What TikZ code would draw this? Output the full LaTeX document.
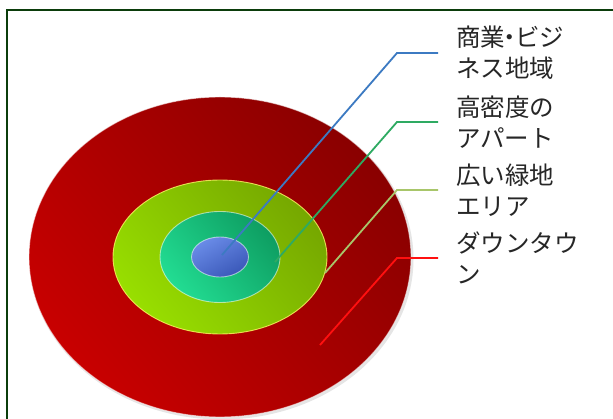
\documentclass[tikz,border=0pt]{standalone}
\usepackage{fontspec}
\newfontfamily\jp{Noto Sans CJK JP}
\usetikzlibrary{shapes.geometric}
\definecolor{framecol}{HTML}{0B3D0B}
\definecolor{redD}{HTML}{8A0000}
\definecolor{redL}{HTML}{C80000}
\definecolor{limeD}{HTML}{76A800}
\definecolor{limeL}{HTML}{98DE00}
\definecolor{tealD}{HTML}{0E9E62}
\definecolor{tealL}{HTML}{22DC92}
\definecolor{blueD}{HTML}{3A58B8}
\definecolor{blueL}{HTML}{6A8CE8}
\definecolor{lnBlue}{HTML}{3C7AC2}
\definecolor{lnGreen}{HTML}{2EAA62}
\definecolor{lnLime}{HTML}{A8C66A}
\definecolor{lnRed}{HTML}{FF1010}
\tikzset{
  zone/.style={ellipse, inner sep=0pt, draw=white, draw opacity=0.55, line width=0.9pt},
  lbl/.style={anchor=west, inner xsep=18pt, inner ysep=0pt, align=left,
              font=\jp\fontsize{24.5pt}{31pt}\selectfont, text=black!85},
  leader/.style={line width=1.8pt}
}
\begin{document}
\begin{tikzpicture}[x=1pt, y=-1pt]
\useasboundingbox (0,0) rectangle (613,419);
\fill[white] (0,0) rectangle (613,419);
\draw[framecol, line width=2.2pt] (7,419) -- (7,10.3) -- (613,10.3);
% shadow of outer disc
\fill[black, opacity=0.10] (221.5,259) ellipse [x radius=192pt, y radius=160.5pt];
\node[zone, minimum width=382pt, minimum height=320pt, top color=redD, bottom color=redL, shading angle=-50] (z4) at (220,257) {};
\node[zone, minimum width=214pt, minimum height=154pt, top color=limeD, bottom color=limeL, shading angle=-50, draw=yellow!60!white, draw opacity=0.8] (z3) at (220,257) {};
\node[zone, minimum width=120pt, minimum height=91pt, top color=tealD, bottom color=tealL, shading angle=-50] (z2) at (220,257) {};
\node[zone, minimum width=57pt, minimum height=40pt, top color=blueL, bottom color=blueD, shading angle=30] (z1) at (220,257) {};
% labels
\node[lbl] (l1) at (438,53) {商業\kern-0.3em・\kern-0.3em ビジ\\ネス地域};
\node[lbl] (l2) at (438,122) {高密度の\\アパート};
\node[lbl] (l3) at (438,190) {広い緑地\\エリア};
\node[lbl] (l4) at (438,258) {ダウンタウ\\ン};
% leader lines
\coordinate (e1) at (222,255);
\coordinate (e2) at (275,262);
\coordinate (e3) at (325,273);
\coordinate (e4) at (320,345);
\coordinate (k1) at (397,53);
\coordinate (k2) at (397,122);
\coordinate (k3) at (397,190);
\coordinate (k4) at (397,258);
\draw[leader, lnBlue] (e1) -- (k1) -- (l1.west);
\draw[leader, lnGreen] (e2) -- (k2) -- (l2.west);
\draw[leader, lnLime] (e3) -- (k3) -- (l3.west);
\draw[leader, lnRed] (e4) -- (k4) -- (l4.west);
\end{tikzpicture}
\end{document}
